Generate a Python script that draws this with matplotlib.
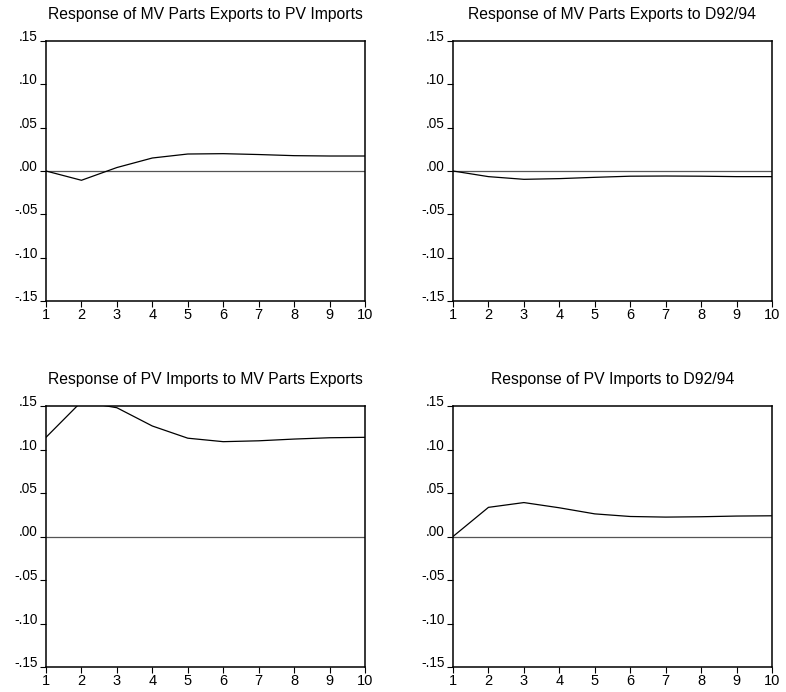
import matplotlib
matplotlib.use("Agg")
import matplotlib.pyplot as plt
from matplotlib.ticker import FuncFormatter

plt.rcParams['font.family'] = ['Liberation Sans', 'DejaVu Sans']

periods = [1, 2, 3, 4, 5, 6, 7, 8, 9, 10]

# impulse responses
mv_to_pv = [0.000, -0.0107, 0.004, 0.015, 0.0196, 0.020, 0.019, 0.0177, 0.0173, 0.0173]
mv_to_d92 = [0.000, -0.0065, -0.0096, -0.0088, -0.0073, -0.0060, -0.0058, -0.0060, -0.0065, -0.0065]
pv_to_mv = [0.114, 0.155, 0.148, 0.127, 0.113, 0.109, 0.110, 0.112, 0.1135, 0.114]
pv_to_d92 = [0.000, 0.0335, 0.039, 0.033, 0.026, 0.023, 0.0223, 0.0227, 0.0235, 0.0238]

titles = [
    "Response of MV Parts Exports to PV Imports",
    "Response of MV Parts Exports to D92/94",
    "Response of PV Imports to MV Parts Exports",
    "Response of PV Imports to D92/94",
]
series = [mv_to_pv, mv_to_d92, pv_to_mv, pv_to_d92]
yticks = [-0.15, -0.10, -0.05, 0.00, 0.05, 0.10, 0.15]

W, H = 786, 692
fig = plt.figure(figsize=(W / 100, H / 100), dpi=100)

# axes boxes in pixels: left, top, right, bottom
boxes = [(46, 41, 365, 301), (453, 41, 772, 301),
         (46, 406, 365, 667), (453, 406, 772, 667)]


def fmt(v, pos):
    s = "%.2f" % v
    s = s.replace("0.", ".")
    if s == "-.00":
        s = ".00"
    return s


for (l, t, r, b), title, ys in zip(boxes, titles, series):
    ax = fig.add_axes([l / W, 1 - b / H, (r - l) / W, (b - t) / H])
    ax.axhline(0, color="#555555", lw=0.9)
    ax.plot(periods, ys, color="black", lw=0.9)
    ax.set_xlim(1, 10)
    ax.set_ylim(-0.15, 0.15)
    ax.set_xticks(periods)
    ax.set_yticks(yticks)
    ax.yaxis.set_major_formatter(FuncFormatter(fmt))
    ax.tick_params(axis="x", direction="out", length=4, width=0.8, labelsize=10.5, pad=1)
    ax.tick_params(axis="y", direction="out", length=4, width=0.8, labelsize=9.8, pad=2)
    for lab in ax.get_yticklabels():
        lab.set_verticalalignment("baseline")
    for s in ax.spines.values():
        s.set_linewidth(1.1)
    ax.set_title(title, fontsize=11.3, pad=16)

fig.savefig("out.png", dpi=100)
